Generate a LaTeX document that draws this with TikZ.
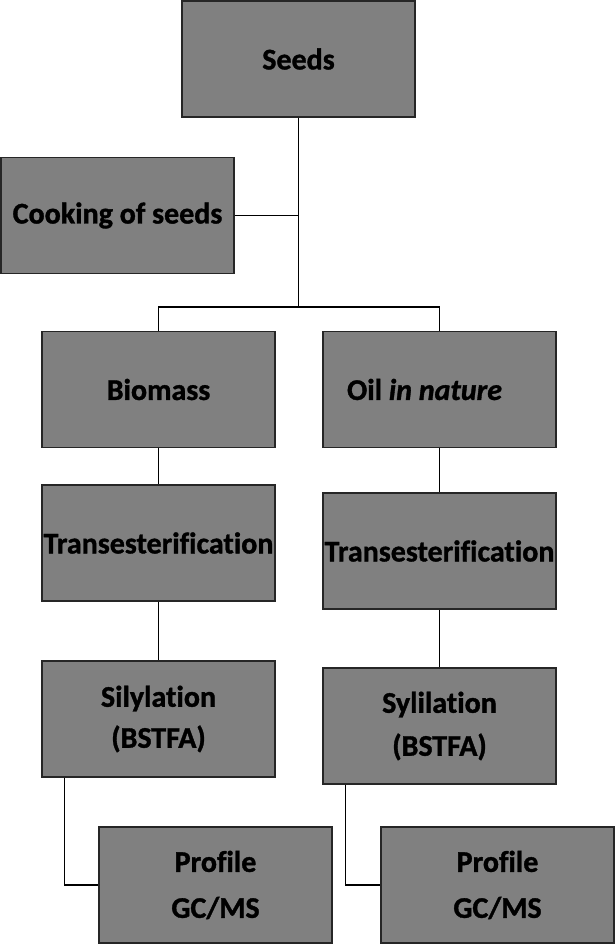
\documentclass[tikz,border=0pt]{standalone}
\usepackage{fontspec}
\setmainfont{Carlito}[Ligatures=NoCommon, BoldFeatures={FakeBold=1.2}, BoldItalicFeatures={FakeBold=1.2}]
\definecolor{boxgray}{RGB}{128,128,128}
\begin{document}
\begin{tikzpicture}[x=1pt,y=1pt,
  box/.style={draw=black!85, line width=1.4pt, fill=boxgray, minimum width=233pt, minimum height=116pt, inner sep=0pt, align=center, font=\fontsize{30}{41}\selectfont\bfseries},
  conn/.style={draw=black, line width=1.4pt}]
\useasboundingbox (0,0) rectangle (615,-945);
\node[box] (seeds) at (298.5,-59) {Seeds};
\node[box] (cook) at (117.5,-215.5) {Cooking of seeds};
\node[box] (bio) at (158.5,-389.5) {Biomass};
\node[box] (oil) at (439.5,-389.5) {\hspace*{-30pt}Oil \textit{in nature}};
\node[box] (tl) at (158.5,-543) {Transesterification};
\node[box] (tr) at (439.5,-551) {Transesterification};
\node[box] (sl) at (158.5,-719) {Silylation\\(BSTFA)};
\node[box] (sr) at (439.5,-726) {Sylilation\\[2pt](BSTFA)};
\node[box] (pl) at (215.5,-885) {Profile\\[5pt]GC/MS};
\node[box] (pr) at (497.5,-885) {Profile\\[5pt]GC/MS};
\coordinate (j) at (298.5,-307);
\draw[conn] (seeds.south) -- (j);
\draw[conn] (cook.east) -- (cook.east -| seeds.south);
\draw[conn] (bio.north) |- (j) -| (oil.north);
\draw[conn] (bio) -- (tl);
\draw[conn] (oil) -- (tr);
\draw[conn] (tl) -- (sl);
\draw[conn] (tr) -- (sr);
\draw[conn] ([xshift=23pt]sl.south west) |- (pl.west);
\draw[conn] ([xshift=23pt]sr.south west) |- (pr.west);
\end{tikzpicture}
\end{document}
